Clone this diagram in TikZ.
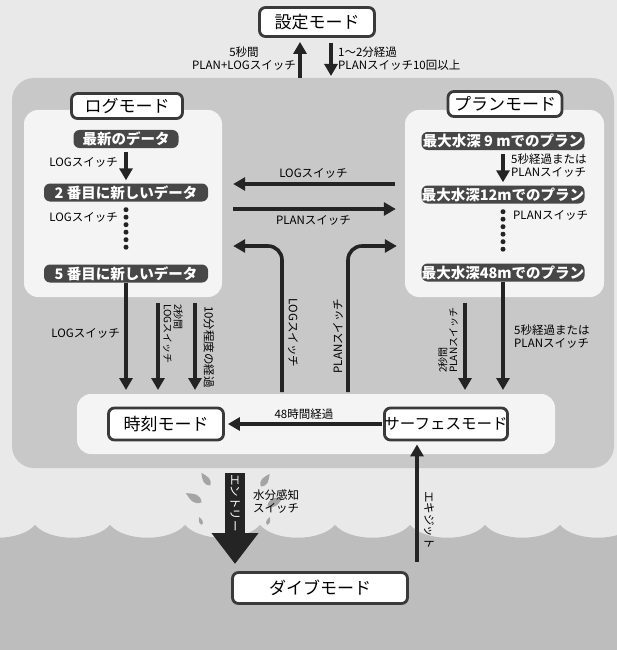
\documentclass[tikz,border=0pt]{standalone}
\usepackage{fontspec}
\setmainfont{Noto Sans CJK JP}
\usetikzlibrary{arrows.meta}

\definecolor{pagegray}{HTML}{E9E9E9}
\definecolor{regiongray}{HTML}{C8C8C8}
\definecolor{panelgray}{HTML}{F4F4F4}
\definecolor{watergray}{HTML}{BDBDBD}
\definecolor{pillgray}{HTML}{474747}
\definecolor{inkgray}{HTML}{242424}
\definecolor{dropgray}{HTML}{A4A4A4}

\begin{document}
\begin{tikzpicture}[x=1pt,y=-1pt,
    modebox/.style={draw=inkgray!90, line width=2.8pt, rounded corners=6pt, fill=white,
      inner sep=0pt, font=\fontsize{17}{17}\selectfont},
    pill/.style={fill=pillgray, text=white, rounded corners=6pt, inner sep=0pt,
      minimum height=18pt, font=\fontsize{14.5}{14.5}\selectfont\bfseries},
    panelbox/.style={fill=panelgray, rounded corners=14pt, inner sep=0pt},
    arr/.style={draw=inkgray, line width=3.6pt, -{Triangle[length=12pt,width=13pt]}},
    dotrun/.style={draw=inkgray, line width=5pt, line cap=round, dash pattern=on 0pt off 7.5pt},
    lbl/.style={font=\fontsize{11.5}{13}\selectfont, inner sep=0pt},
    lblsmall/.style={font=\fontsize{10}{10.5}\selectfont, inner sep=0pt}]

  \clip (0,0) rectangle (617,650);
  \fill[pagegray] (0,0) rectangle (617,650);

  % water with its scalloped surface
  \fill[watergray] (-40,525)
    \foreach \x in {-40,35,...,560} { .. controls ({\x+15},542) and ({\x+60},542) .. ({\x+75},525) }
    -- (660,650) -- (-40,650) -- cycle;

  % splashes round the entry arrow
  \def\drop#1#2#3#4{\fill[dropgray,shift={(#1,#2)},rotate=#3,scale=#4]
    (0,-9) .. controls (3,-3) and (5,1) .. (0,5) .. controls (-5,1) and (-3,-3) .. (0,-9);}
  \drop{207}{481}{35}{1.1}
  \drop{196}{499}{60}{1.3}
  \drop{201}{522}{20}{0.6}
  \drop{264}{482}{-35}{1.1}
  \drop{273}{503}{-60}{1.3}
  \drop{268}{522}{-20}{0.6}

  % the gray field and its light panels
  \fill[regiongray, rounded corners=22pt] (12,78) rectangle (614,468);
  \node[panelbox, minimum width=198pt, minimum height=187pt] (logpanel) at (123,203.5) {};
  \node[panelbox, minimum width=199pt, minimum height=187pt] (planpanel) at (504.5,203.5) {};
  \node[panelbox, minimum width=478pt, minimum height=60pt] (band) at (316,424) {};

  \coordinate (rowlog) at (0,184);
  \coordinate (rowplan) at (0,209);
  \coordinate (rowturn) at (0,246);
  \coordinate (tipline) at (0,390);

  % modes
  \node[modebox, minimum width=115pt, minimum height=29pt] (set) at (317,22) {設定モード};
  \node[modebox, minimum width=111pt, minimum height=25pt] (logmode) at (127,106) {ログモード};
  \node[modebox, minimum width=114pt, minimum height=25pt] (planmode) at (505,104) {プランモード};
  \node[modebox, minimum width=115pt, minimum height=32pt] (clock) at (166,424) {時刻モード};
  \node[modebox, minimum width=117pt, minimum height=32pt, font=\fontsize{15.5}{15.5}\selectfont] (surface) at (446,424) {サーフェスモード};
  \node[modebox, minimum width=175pt, minimum height=31pt] (dive) at (320,588) {ダイブモード};

  % log entries
  \node[pill, minimum width=105pt] (log1) at (126,139) {最新のデータ};
  \node[pill, minimum width=164pt] (log2) at (126,192.5) {2 番目に新しいデータ};
  \node[pill, minimum width=164pt] (log5) at (126,273.5) {5 番目に新しいデータ};

  % plan entries
  \node[pill, minimum width=163pt] (plan9) at (503,141) {最大水深 9 mでのプラン};
  \node[pill, minimum width=163pt] (plan12) at (503,194.5) {最大水深12mでのプラン};
  \node[pill, minimum width=163pt] (plan48) at (503,272.5) {最大水深48mでのプラン};

  % set mode in and out
  \coordinate (upfoot) at (300,78);
  \coordinate (dnfoot) at (331,76);
  \draw[arr, shorten >=4pt] (upfoot) -- (upfoot |- set.south);
  \draw[arr, shorten <=5pt] (dnfoot |- set.south) -- (dnfoot);
  \node[lbl, align=center, anchor=east] at (296,59) {5秒間\\PLAN+LOGスイッチ};
  \node[lbl, align=left, anchor=west] at (338,59) {1～2分経過\\PLANスイッチ10回以上};

  % stepping through the log
  \draw[arr, shorten <=4pt, shorten >=3pt] (log1.south) -- (log2.north);
  \node[lbl, anchor=east] at (118,162) {LOGスイッチ};
  \draw[dotrun, shorten <=8pt, shorten >=10pt] (log2.south) -- (log5.north);
  \node[lbl, anchor=east] at (118,217) {LOGスイッチ};

  % stepping through the plans
  \draw[arr, shorten <=4pt, shorten >=3pt] (plan9.south) -- (plan12.north);
  \node[lbl, align=left, anchor=west] at (511,166) {5秒経過または\\PLANスイッチ};
  \draw[dotrun, shorten <=8pt, shorten >=10pt] (plan12.south) -- (plan48.north);
  \node[lbl, anchor=west] at (513,215) {PLANスイッチ};

  % log <-> plan
  \draw[arr, shorten <=10pt, shorten >=11pt] (planpanel.west |- rowlog) -- (logpanel.east |- rowlog)
    node[lbl, midway, above=4pt] {LOGスイッチ};
  \draw[arr, shorten <=11pt, shorten >=9pt] (logpanel.east |- rowplan) -- (planpanel.west |- rowplan)
    node[lbl, midway, below=5pt] {PLANスイッチ};

  % clock mode up into log and plan
  \coordinate (logup) at (282,392);
  \coordinate (planup) at (348,392);
  \draw[arr, rounded corners=14pt, shorten >=11pt] (logup) |- (logpanel.east |- rowturn);
  \draw[arr, rounded corners=14pt, shorten >=8pt] (planup) |- (planpanel.west |- rowturn);
  \node[lbl, rotate=-90] at (293,333) {LOGスイッチ};
  \node[lbl, rotate=90] at (338,336) {PLANスイッチ};

  % back down to clock mode
  \coordinate (l2) at (158,303);
  \coordinate (l3) at (195,303);
  \draw[arr] (log5.south) -- (log5.south |- tipline);
  \draw[arr] (l2) -- (l2 |- tipline);
  \draw[arr] (l3) -- (l3 |- tipline);
  \node[lbl, anchor=east] at (120,333) {LOGスイッチ};
  \node[lblsmall, rotate=-90, anchor=north west, align=left] at (183,304) {2秒間\\LOGスイッチ};
  \node[lbl, rotate=-90] at (209,347) {10分程度の経過};

  % plans down to surface mode
  \coordinate (p2) at (465,303);
  \draw[arr] (p2) -- (p2 |- tipline);
  \draw[arr] (plan48.south) -- (plan48.south |- tipline);
  \node[lblsmall, rotate=90, anchor=north west, align=left] at (438,373) {2秒間\\PLANスイッチ};
  \node[lbl, align=left, anchor=west] at (514,337) {5秒経過または\\PLANスイッチ};

  \draw[arr, shorten <=1pt, shorten >=3pt] (surface.west) -- (clock.east)
    node[lbl, midway, above=3pt] {48時間経過};

  % entry and exit
  \coordinate (entrytop) at (235,473);
  \coordinate (entrytip) at (235,564);
  \draw[inkgray, line width=20pt, -{Triangle[length=31pt,width=45pt]}] (entrytop) -- (entrytip);
  \node[lbl, text=white, rotate=-90] at (235,503) {エントリー};
  \node[lbl, align=center] at (276,502) {水分感知\\スイッチ};

  \coordinate (exitfoot) at (417,562);
  \draw[arr, shorten >=3pt] (exitfoot) -- (exitfoot |- surface.south);
  \node[lbl, rotate=-90] at (429,520) {エキジット};
\end{tikzpicture}
\end{document}
